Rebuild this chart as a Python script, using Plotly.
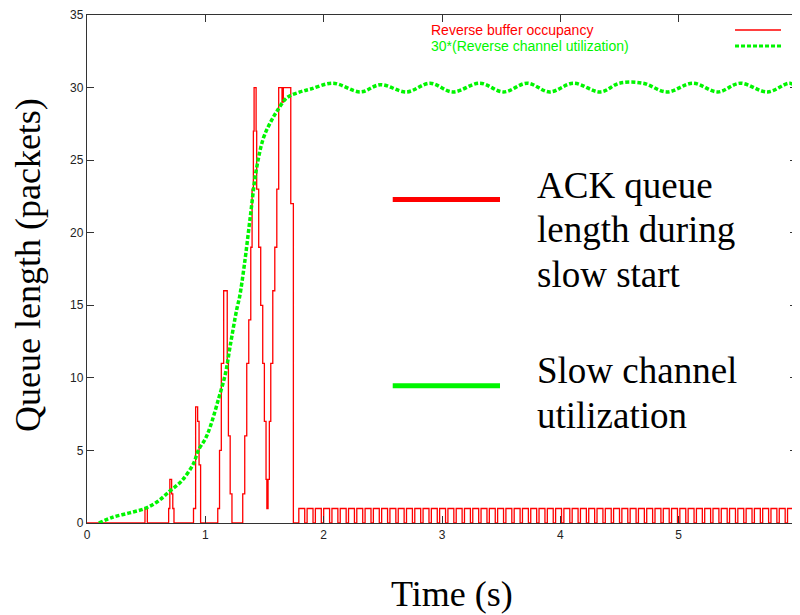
import plotly.graph_objects as go

# --- data ---
# reverse buffer occupancy (step changes during slow start)
burst_t = [0.00, 0.49, 0.51, 0.69, 0.70, 0.715, 0.725, 0.735,
           0.90, 0.918, 0.935, 0.947, 0.96,
           1.105, 1.12, 1.135, 1.155, 1.185, 1.195, 1.21, 1.225,
           1.316, 1.333, 1.350, 1.367, 1.384, 1.395, 1.406, 1.412, 1.429,
           1.434, 1.451, 1.468, 1.485, 1.499, 1.513, 1.52, 1.53,
           1.541, 1.553, 1.570, 1.587, 1.604, 1.620, 1.648, 1.659, 1.722, 1.744]
burst_q = [0, 1, 0, 1, 3, 2, 1, 0,
           1, 8, 7, 4, 0,
           1, 5, 11, 16, 11, 6, 2, 0,
           2, 6, 11, 14, 19, 23, 27, 30, 27,
           23, 19, 15, 11, 7, 3, 1, 3,
           7, 11, 16, 19, 23, 30, 29, 30, 22, 0]

# steady state: queue toggles between 1 and 0
tail_up = [1.79, 1.86, 1.93, 2.00, 2.07, 2.14, 2.21, 2.28, 2.35, 2.42,
           2.49, 2.56, 2.63, 2.70, 2.77, 2.84, 2.91, 2.98, 3.05, 3.12,
           3.19, 3.26, 3.33, 3.40, 3.47, 3.54, 3.61, 3.68, 3.75, 3.82,
           3.89, 3.96, 4.03, 4.10, 4.17, 4.24, 4.31, 4.38, 4.45, 4.52,
           4.59, 4.66, 4.73, 4.80, 4.87, 4.94, 5.01, 5.08, 5.15, 5.22,
           5.29, 5.36, 5.43, 5.50, 5.57, 5.64, 5.71, 5.78, 5.85, 5.92, 5.99]
tail_down = [1.84, 1.91, 1.98, 2.05, 2.12, 2.19, 2.26, 2.33, 2.40, 2.47,
             2.54, 2.61, 2.68, 2.75, 2.82, 2.89, 2.96, 3.03, 3.10, 3.17,
             3.24, 3.31, 3.38, 3.45, 3.52, 3.59, 3.66, 3.73, 3.80, 3.87,
             3.94, 4.01, 4.08, 4.15, 4.22, 4.29, 4.36, 4.43, 4.50, 4.57,
             4.64, 4.71, 4.78, 4.85, 4.92, 4.99, 5.06, 5.13, 5.20, 5.27,
             5.34, 5.41, 5.48, 5.55, 5.62, 5.69, 5.76, 5.83, 5.90, 5.97]
end_t, end_q = 6.0, 1

# 30 * reverse channel utilization
util_t = [0.10, 0.22, 0.36, 0.49, 0.60, 0.70, 0.80, 0.90, 0.94, 1.00,
          1.04, 1.11, 1.17, 1.21, 1.265, 1.29, 1.33, 1.38, 1.43, 1.49,
          1.55, 1.60, 1.69, 1.80, 1.89, 2.08, 2.31, 2.48, 2.70, 2.90,
          3.09, 3.32, 3.52, 3.72, 3.91, 4.11, 4.34, 4.50, 4.70, 4.90,
          5.12, 5.33, 5.52, 5.75, 5.94, 6.00]
util_v = [0.0, 0.4, 0.7, 1.0, 1.5, 2.2, 2.9, 4.1, 5.0, 5.8,
          6.6, 8.5, 10.3, 12.2, 14.7, 15.6, 17.8, 21.1, 24.3, 26.5,
          27.6, 28.3, 29.3, 29.7, 29.9, 30.3, 29.7, 30.2, 29.7, 30.3,
          29.7, 30.3, 29.7, 30.3, 29.7, 30.3, 29.7, 30.3, 30.3, 29.7,
          30.3, 29.7, 30.3, 29.7, 30.3, 30.0]

x_ticks = [0, 1, 2, 3, 4, 5, 6]
y_ticks = [0, 5, 10, 15, 20, 25, 30, 35]

RED = "rgb(255,0,0)"
GREEN = "rgb(0,245,0)"

red_t = list(burst_t)
red_q = list(burst_q)
for up, down in zip(tail_up, tail_down):
    red_t += [up, down]
    red_q += [1, 0]
red_t += [tail_up[-1], end_t]
red_q += [1, end_q]

fig = go.Figure()
fig.add_trace(go.Scatter(
    x=red_t, y=red_q, mode="lines", line_shape="hv",
    line=dict(color=RED, width=1.3), showlegend=False,
))
fig.add_trace(go.Scatter(
    x=util_t, y=util_v, mode="lines", line_shape="spline",
    line=dict(color=GREEN, width=3.5, dash="4px,2px"), showlegend=False,
))

axis_common = dict(
    ticks="inside", ticklen=7, tickwidth=1.2, tickcolor="#333",
    showline=True, linecolor="#333", linewidth=1.3, mirror="ticks",
    showgrid=False, zeroline=False, automargin=False,
    ticklabeloverflow="allow",
    tickfont=dict(family="Liberation Sans", size=12, color="#222"),
)
fig.update_xaxes(range=[0, 6], tickvals=x_ticks, **axis_common)
fig.update_yaxes(range=[0, 35], tickvals=y_ticks, ticklabelstandoff=0, **axis_common)

serif = dict(family="Liberation Serif", size=36, color="black")
big = dict(family="Liberation Serif", size=37, color="black")
key = dict(family="Liberation Sans", size=14)

annotations = [
    dict(text="Queue length (packets)", x=-0.083, y=0.508, textangle=-90, font=serif),
    dict(text="Time (s)", x=0.514, y=-0.139, font=serif),
    # callout legend
    dict(text="ACK queue", x=0.631, y=0.665, xanchor="left", font=big),
    dict(text="length during", x=0.631, y=0.578, xanchor="left", font=big),
    dict(text="slow start", x=0.631, y=0.490, xanchor="left", font=big),
    dict(text="Slow channel", x=0.631, y=0.300, xanchor="left", font=big),
    dict(text="utilization", x=0.631, y=0.212, xanchor="left", font=big),
    # gnuplot key
    dict(text="Reverse buffer occupancy", x=0.4817, y=0.9705, xanchor="left",
         font=dict(key, color=RED)),
    dict(text="30*(Reverse channel utilization)", x=0.4817, y=0.939, xanchor="left",
         font=dict(key, color=GREEN)),
]
for a in annotations:
    a.setdefault("xanchor", "center")
    a.update(xref="paper", yref="paper", yanchor="middle", showarrow=False)

shapes = [
    dict(type="line", x0=0.4306, x1=0.5817, y0=0.637, y1=0.637,
         line=dict(color=RED, width=5)),
    dict(type="line", x0=0.4306, x1=0.5817, y0=0.270, y1=0.270,
         line=dict(color=GREEN, width=5)),
    dict(type="line", x0=0.9127, x1=0.9775, y0=0.9705, y1=0.9705,
         line=dict(color=RED, width=1.3)),
    dict(type="line", x0=0.9127, x1=0.9775, y0=0.939, y1=0.939,
         line=dict(color=GREEN, width=3, dash="4px,2px")),
]
for s in shapes:
    s.update(xref="paper", yref="paper")

# the page body adds an 8px margin, so the figure is drawn 8px smaller
fig.update_layout(
    width=792, height=607,
    margin=dict(l=79, r=3, t=7, b=92),
    paper_bgcolor="white", plot_bgcolor="white",
    annotations=annotations, shapes=shapes,
)

fig.write_html("out.html")
